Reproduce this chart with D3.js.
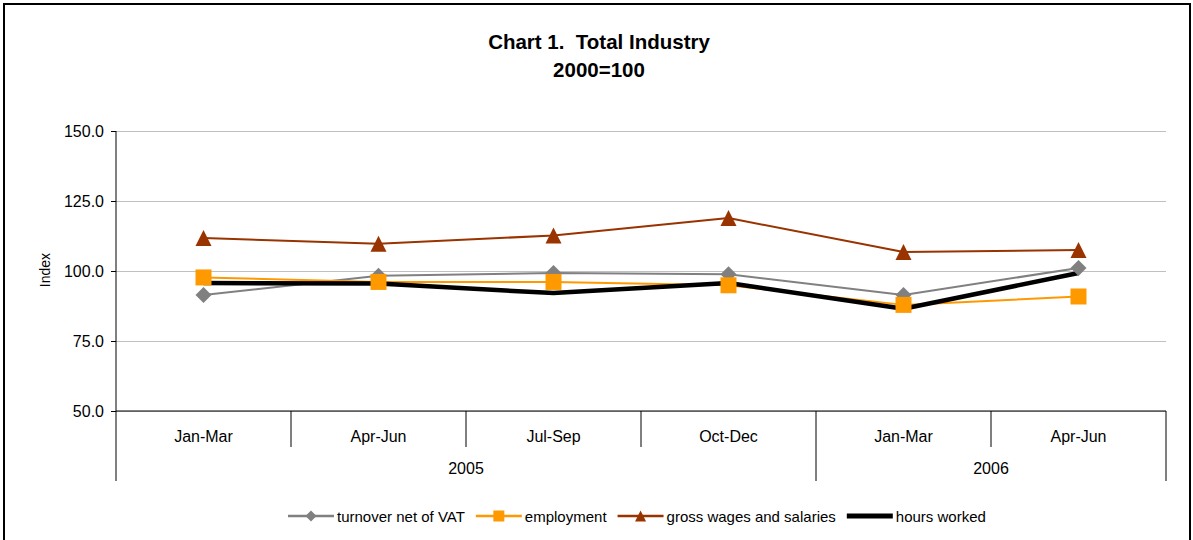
<!DOCTYPE html>
<html>
<head>
<meta charset="utf-8">
<script src="https://cdn.jsdelivr.net/npm/d3@7"></script>
<style>
    body { margin: 0; background: #fff; }
    svg text { font-family: "Liberation Sans", Arial, sans-serif; fill: #000; }
</style>
</head>
<body>
<div id="chart"></div>
<script>
// data
const quarters = ["Jan-Mar", "Apr-Jun", "Jul-Sep", "Oct-Dec", "Jan-Mar", "Apr-Jun"];
const years = ["2005", "2005", "2005", "2005", "2006", "2006"];
const yTicks = [50, 75, 100, 125, 150];
const seriesNames = ["turnover net of VAT", "employment", "gross wages and salaries", "hours worked"];
const turnover = [91.4, 98.3, 99.3, 98.8, 91.4, 101.1];
const employment = [97.7, 96.1, 96.1, 94.9, 87.9, 90.9];
const wages = [111.8, 109.7, 112.7, 118.9, 106.8, 107.5];
const hours = [95.7, 95.5, 92.1, 95.7, 86.5, 99.3];

class LineVis {

    constructor(_parentElement) {
        this.parentElement = _parentElement;
        this.series = [
            {name: seriesNames[0], values: turnover, color: '#808080', width: 2, marker: 'diamond'},
            {name: seriesNames[1], values: employment, color: '#FF9900', width: 2, marker: 'square'},
            {name: seriesNames[2], values: wages, color: '#993300', width: 2, marker: 'triangle'},
            {name: seriesNames[3], values: hours, color: '#000000', width: 4.5, marker: null}
        ];
        this.initVis();
    }

    initVis() {
        let vis = this;

        vis.margin = {top: 131, left: 116};
        vis.width = 1050;
        vis.height = 280;

        vis.root = d3.select("#" + vis.parentElement).append("svg")
            .attr("width", 1193)
            .attr("height", 540);

        // outer frame
        vis.root.append('rect')
            .attr('x', 4).attr('y', 4)
            .attr('width', 1186).attr('height', 600)
            .attr('fill', 'none')
            .attr('stroke', '#000')
            .attr('stroke-width', 2);

        // title
        vis.root.append('text')
            .attr('x', 599).attr('y', 49)
            .attr('text-anchor', 'middle')
            .attr('font-size', 20.5).attr('font-weight', 'bold')
            .attr('xml:space', 'preserve')
            .text("Chart 1.  Total Industry");
        vis.root.append('text')
            .attr('x', 599).attr('y', 77)
            .attr('text-anchor', 'middle')
            .attr('font-size', 20.5).attr('font-weight', 'bold')
            .text("2000=100");

        vis.svg = vis.root.append("g")
            .attr("transform", "translate(" + vis.margin.left + "," + vis.margin.top + ")");

        vis.x = d3.scaleBand()
            .domain(d3.range(quarters.length))
            .range([0, vis.width]);

        vis.y = d3.scaleLinear()
            .domain([50, 150])
            .range([vis.height, 0]);

        vis.updateVis();
    }

    markerPath(type, s) {
        let h = s / 2;
        if (type === 'diamond') return `M0,${-h}L${h},0L0,${h}L${-h},0Z`;
        if (type === 'square') return `M${-h},${-h}H${h}V${h}H${-h}Z`;
        if (type === 'triangle') return `M0,${-h}L${h},${h}L${-h},${h}Z`;
        return '';
    }

    updateVis() {
        let vis = this;
        let bw = vis.x.bandwidth();

        // gridlines
        let grid = vis.svg.append('g')
            .call(d3.axisLeft(vis.y).tickValues(yTicks).tickSize(-vis.width).tickFormat(''));
        grid.select('.domain').remove();
        grid.selectAll('line').attr('stroke', '#c0c0c0');

        // y axis
        let yAxis = vis.svg.append('g')
            .call(d3.axisLeft(vis.y).tickValues(yTicks).tickFormat(d3.format('.1f'))
                .tickSize(5).tickSizeOuter(0).tickPadding(7));
        yAxis.select('.domain').remove();
        yAxis.selectAll('text').attr('font-size', 16).attr('font-family', '"Liberation Sans", Arial, sans-serif');
        yAxis.selectAll('line').attr('stroke', '#000');

        vis.root.append('text')
            .attr('transform', 'translate(50,270) rotate(-90)')
            .attr('text-anchor', 'middle')
            .attr('font-size', 14)
            .text('Index');

        // category axis: left line, bottom line, boundaries
        vis.svg.append('line')
            .attr('x1', 0).attr('x2', 0)
            .attr('y1', 0).attr('y2', vis.height + 70)
            .attr('stroke', '#000');
        vis.svg.append('line')
            .attr('x1', 0).attr('x2', vis.width)
            .attr('y1', vis.height).attr('y2', vis.height)
            .attr('stroke', '#000');

        for (let i = 1; i <= quarters.length; i++) {
            let yearEdge = i === quarters.length || years[i] !== years[i - 1];
            let bx = i === quarters.length ? vis.width : vis.x(i);
            vis.svg.append('line')
                .attr('x1', bx).attr('x2', bx)
                .attr('y1', vis.height)
                .attr('y2', vis.height + (yearEdge ? 70 : 36))
                .attr('stroke', '#000');
        }

        quarters.forEach((q, i) => {
            vis.svg.append('text')
                .attr('x', vis.x(i) + bw / 2)
                .attr('y', vis.height + 31)
                .attr('text-anchor', 'middle')
                .attr('font-size', 16)
                .text(q);
        });

        d3.groups(years.map((yr, i) => ({yr, i})), d => d.yr).forEach(([yr, items]) => {
            let cx = d3.mean(items, d => vis.x(d.i) + bw / 2);
            vis.svg.append('text')
                .attr('x', cx)
                .attr('y', vis.height + 63)
                .attr('text-anchor', 'middle')
                .attr('font-size', 16)
                .text(yr);
        });

        // lines
        let line = d3.line()
            .x((d, i) => vis.x(i) + bw / 2)
            .y(d => vis.y(d));

        vis.series.forEach(s => {
            vis.svg.append('path')
                .datum(s.values)
                .attr('d', line)
                .attr('fill', 'none')
                .attr('stroke', s.color)
                .attr('stroke-width', s.width)
                .attr('stroke-linejoin', 'round');
        });

        // markers on top of all lines
        vis.series.filter(s => s.marker).forEach(s => {
            vis.svg.selectAll(null)
                .data(s.values)
                .enter().append('path')
                .attr('transform', (d, i) => `translate(${vis.x(i) + bw / 2},${vis.y(d)})`)
                .attr('d', vis.markerPath(s.marker, 16))
                .attr('fill', s.color);
        });

        // legend
        let lx = 288, ly = 516;
        vis.series.forEach(s => {
            let g = vis.root.append('g').attr('transform', `translate(${lx},${ly})`);
            g.append('line')
                .attr('x1', 0).attr('x2', 46)
                .attr('stroke', s.color)
                .attr('stroke-width', s.width === 2 ? 2.5 : 5);
            if (s.marker) {
                g.append('path')
                    .attr('transform', 'translate(23,0)')
                    .attr('d', vis.markerPath(s.marker, 11))
                    .attr('fill', s.color);
            }
            let t = g.append('text')
                .attr('x', 49).attr('y', 5.5)
                .attr('font-size', 15)
                .text(s.name);
            lx += 49 + t.node().getComputedTextLength() + 11;
        });
    }
}

new LineVis("chart");
</script>
</body>
</html>
